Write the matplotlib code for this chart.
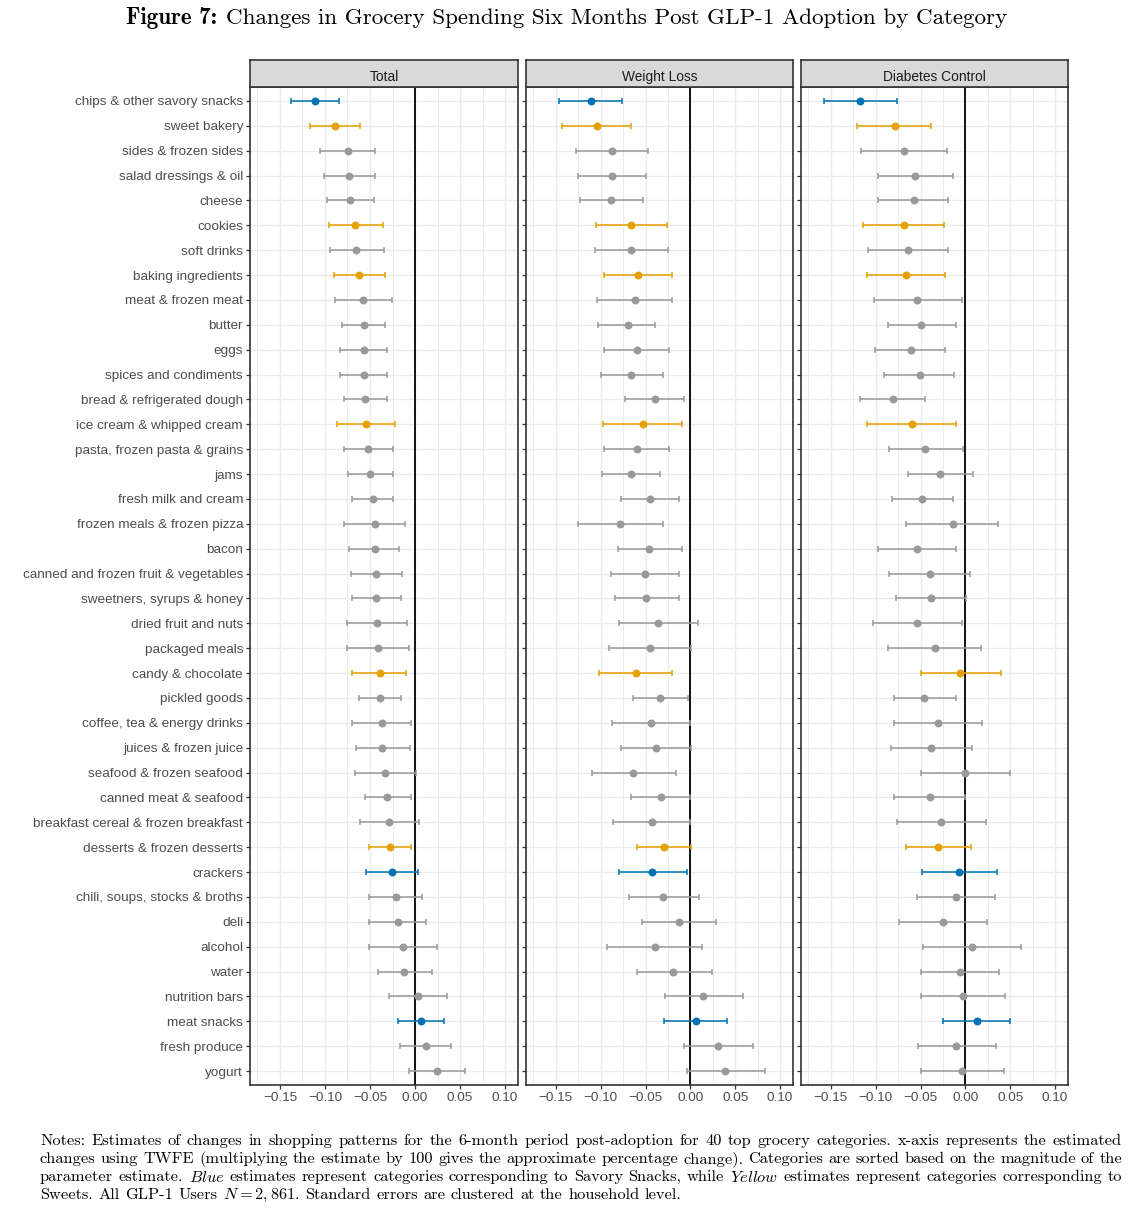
import numpy as np
import matplotlib.pyplot as plt

plt.rcParams['mathtext.fontset'] = 'cm'

categories = [
    "chips & other savory snacks", "sweet bakery", "sides & frozen sides",
    "salad dressings & oil", "cheese", "cookies", "soft drinks",
    "baking ingredients", "meat & frozen meat", "butter", "eggs",
    "spices and condiments", "bread & refrigerated dough",
    "ice cream & whipped cream", "pasta, frozen pasta & grains", "jams",
    "fresh milk and cream", "frozen meals & frozen pizza", "bacon",
    "canned and frozen fruit & vegetables", "sweetners, syrups & honey",
    "dried fruit and nuts", "packaged meals", "candy & chocolate",
    "pickled goods", "coffee, tea & energy drinks", "juices & frozen juice",
    "seafood & frozen seafood", "canned meat & seafood",
    "breakfast cereal & frozen breakfast", "desserts & frozen desserts",
    "crackers", "chili, soups, stocks & broths", "deli", "alcohol", "water",
    "nutrition bars", "meat snacks", "fresh produce", "yogurt",
]
# S = savory snacks (blue), W = sweets (yellow), O = other (grey)
group = ["S", "W", "O", "O", "O", "W", "O", "W", "O", "O",
         "O", "O", "O", "W", "O", "O", "O", "O", "O", "O",
         "O", "O", "O", "W", "O", "O", "O", "O", "O", "O",
         "W", "S", "O", "O", "O", "O", "O", "S", "O", "O"]

total_est = [-0.111, -0.089, -0.074, -0.073, -0.072, -0.067, -0.066, -0.062, -0.058, -0.057,
             -0.057, -0.057, -0.056, -0.054, -0.052, -0.050, -0.047, -0.045, -0.045, -0.043,
             -0.043, -0.042, -0.041, -0.039, -0.039, -0.037, -0.037, -0.033, -0.031, -0.029,
             -0.028, -0.026, -0.021, -0.019, -0.013, -0.012, 0.003, 0.007, 0.012, 0.024]
total_lo = [-0.138, -0.117, -0.105, -0.101, -0.098, -0.096, -0.094, -0.090, -0.089, -0.081,
            -0.083, -0.083, -0.079, -0.087, -0.079, -0.074, -0.070, -0.079, -0.073, -0.071,
            -0.070, -0.075, -0.076, -0.070, -0.062, -0.070, -0.066, -0.067, -0.056, -0.061,
            -0.051, -0.054, -0.051, -0.051, -0.051, -0.041, -0.029, -0.019, -0.017, -0.007]
total_hi = [-0.084, -0.061, -0.044, -0.044, -0.046, -0.036, -0.035, -0.033, -0.026, -0.033,
            -0.031, -0.031, -0.031, -0.022, -0.025, -0.025, -0.024, -0.011, -0.018, -0.014,
            -0.016, -0.009, -0.007, -0.010, -0.016, -0.004, -0.006, 0.001, -0.005, 0.004,
            -0.004, 0.003, 0.008, 0.012, 0.024, 0.019, 0.035, 0.032, 0.040, 0.056]

wl_est = [-0.111, -0.104, -0.087, -0.087, -0.088, -0.066, -0.066, -0.058, -0.062, -0.070,
          -0.060, -0.066, -0.040, -0.053, -0.060, -0.066, -0.045, -0.078, -0.046, -0.051,
          -0.049, -0.036, -0.045, -0.061, -0.034, -0.044, -0.038, -0.064, -0.033, -0.043,
          -0.029, -0.043, -0.030, -0.013, -0.040, -0.019, 0.014, 0.006, 0.031, 0.039]
wl_lo = [-0.147, -0.143, -0.127, -0.125, -0.123, -0.105, -0.106, -0.096, -0.104, -0.103,
         -0.096, -0.100, -0.073, -0.097, -0.096, -0.099, -0.077, -0.125, -0.081, -0.089,
         -0.084, -0.080, -0.091, -0.102, -0.064, -0.087, -0.077, -0.110, -0.066, -0.086,
         -0.060, -0.080, -0.069, -0.054, -0.093, -0.060, -0.028, -0.029, -0.007, -0.004]
wl_hi = [-0.076, -0.066, -0.047, -0.049, -0.053, -0.026, -0.025, -0.020, -0.020, -0.039,
         -0.024, -0.030, -0.007, -0.009, -0.024, -0.034, -0.013, -0.031, -0.009, -0.013,
         -0.013, 0.008, 0.001, -0.021, -0.003, 0.000, 0.001, -0.016, -0.001, -0.001,
         0.001, -0.004, 0.010, 0.029, 0.013, 0.024, 0.059, 0.041, 0.070, 0.083]

dc_est = [-0.117, -0.079, -0.068, -0.056, -0.057, -0.069, -0.064, -0.066, -0.054, -0.049,
          -0.061, -0.051, -0.081, -0.060, -0.045, -0.028, -0.048, -0.014, -0.054, -0.040,
          -0.038, -0.054, -0.034, -0.006, -0.046, -0.030, -0.038, 0.000, -0.040, -0.027,
          -0.030, -0.007, -0.011, -0.025, 0.007, -0.006, -0.003, 0.013, -0.010, -0.004]
dc_lo = [-0.158, -0.121, -0.116, -0.098, -0.097, -0.114, -0.109, -0.110, -0.102, -0.086,
         -0.101, -0.091, -0.117, -0.110, -0.085, -0.064, -0.082, -0.066, -0.097, -0.085,
         -0.077, -0.103, -0.086, -0.050, -0.080, -0.080, -0.083, -0.050, -0.080, -0.076,
         -0.066, -0.048, -0.054, -0.074, -0.047, -0.049, -0.050, -0.025, -0.053, -0.050]
dc_hi = [-0.076, -0.038, -0.020, -0.014, -0.019, -0.024, -0.019, -0.023, -0.004, -0.011,
         -0.023, -0.013, -0.045, -0.011, -0.003, 0.009, -0.014, 0.036, -0.010, 0.005,
         0.001, -0.004, 0.017, 0.040, -0.011, 0.019, 0.007, 0.050, -0.001, 0.023,
         0.006, 0.035, 0.033, 0.024, 0.062, 0.038, 0.044, 0.050, 0.034, 0.043]

panels = [
    ("Total", total_est, total_lo, total_hi),
    ("Weight Loss", wl_est, wl_lo, wl_hi),
    ("Diabetes Control", dc_est, dc_lo, dc_hi),
]
colors = {"S": "#0072B2", "W": "#E69F00", "O": "#999999"}

W, H = 1134, 1218
fig = plt.figure(figsize=(W / 100, H / 100), dpi=100)
renderer = fig.canvas.get_renderer()


def box(x0, y0, x1, y1):
    # pixel box (top-left origin) -> figure fraction rect
    return [x0 / W, 1 - y1 / H, (x1 - x0) / W, (y1 - y0) / H]


lefts = [(250, 518), (526, 793), (801, 1068)]
ptop, pbot, stop = 87, 1085, 60
n = len(categories)
ypos = np.arange(1, n + 1)
grp = np.array(group)

for k, (name, est, lo, hi) in enumerate(panels):
    x0, x1 = lefts[k]
    ax = fig.add_axes(box(x0, ptop, x1, pbot))
    est, lo, hi = np.array(est), np.array(lo), np.array(hi)
    for g in ["O", "W", "S"]:
        m = grp == g
        ax.errorbar(est[m], ypos[m], xerr=[est[m] - lo[m], hi[m] - est[m]],
                    fmt='o', color=colors[g], ms=4.7, elinewidth=1.1,
                    capsize=2.4, capthick=1.1, zorder=3)
    ax.axvline(0, color='black', lw=1.3, zorder=2)
    ax.set_xlim(-0.1833, 0.1144)
    ax.set_ylim(n + 0.56, 0.44)
    ax.set_xticks([-0.15, -0.10, -0.05, 0.0, 0.05, 0.10])
    ax.set_xticklabels(["\u22120.15", "\u22120.10", "\u22120.05", "0.00", "0.05", "0.10"])
    ax.set_xticks(np.arange(-0.175, 0.11, 0.05), minor=True)
    ax.set_yticks(ypos)
    if k == 0:
        ax.set_yticklabels(categories)
    else:
        ax.set_yticklabels([])
        ax.tick_params(axis='y', length=0)
    ax.grid(True, which='major', color='#EBEBEB', lw=1.0, zorder=0)
    ax.grid(True, which='minor', axis='x', color='#EBEBEB', lw=0.7, zorder=0)
    ax.set_axisbelow(True)
    ax.tick_params(axis='both', which='major', labelsize=9.7, labelcolor='#4D4D4D',
                   color='#333333', length=3, width=0.9, pad=2)
    ax.tick_params(axis='x', which='minor', length=0)
    for s in ax.spines.values():
        s.set_color('#333333')
        s.set_linewidth(1.2)
    for lab in ax.get_xticklabels() + ax.get_yticklabels():
        lab.set_fontfamily('Liberation Sans')

    sax = fig.add_axes(box(x0, stop, x1, ptop))
    sax.set_facecolor('#D9D9D9')
    sax.set_xticks([])
    sax.set_yticks([])
    for s in sax.spines.values():
        s.set_color('#333333')
        s.set_linewidth(1.2)
    sax.text(0.5, 0.42, name, ha='center', va='center_baseline', fontsize=9.9,
             color='#1A1A1A', family='Liberation Sans', transform=sax.transAxes)

# title: bold "Figure 7:" followed by roman text, centred as one line
ty = 1 - 18 / H
t1 = fig.text(0, ty, "Figure 7:", ha='left', va='center', fontsize=16.6, family='cmb10')
t2 = fig.text(0, ty, "Changes in Grocery Spending Six Months Post GLP-1 Adoption by Category",
              ha='left', va='center', fontsize=16.6, family='cmr10')
w1 = t1.get_window_extent(renderer).width
w2 = t2.get_window_extent(renderer).width
tgap = 9
tx = (W - (w1 + tgap + w2)) / 2
t1.set_x(tx / W)
t2.set_x((tx + w1 + tgap) / W)

# notes, justified line by line
notes = [
    "Notes: Estimates of changes in shopping patterns for the 6-month period post-adoption for 40 top grocery categories. x-axis represents the estimated",
    "changes using TWFE (multiplying the estimate by 100 gives the approximate percentage change). Categories are sorted based on the magnitude of the",
    r"parameter estimate. $\mathit{Blue}$ estimates represent categories corresponding to Savory Snacks, while $\mathit{Yellow}$ estimates represent categories corresponding to",
    r"Sweets. All GLP-1 Users $N=2,861$. Standard errors are clustered at the household level.",
]
nx0, nx1 = 40, 1122
for i, line in enumerate(notes):
    yl = 1 - (1141 + 18 * i) / H
    # keep math tokens intact
    toks, buf = [], None
    for w in line.split(" "):
        if buf is not None:
            buf += " " + w
            if w.count("$") % 2 == 1:
                toks.append(buf)
                buf = None
        elif w.count("$") == 1:
            buf = w
        else:
            toks.append(w)
    objs = [fig.text(0, yl, t, ha='left', va='center', fontsize=11.8, family='cmr10')
            for t in toks]
    widths = [o.get_window_extent(renderer).width for o in objs]
    if i < len(notes) - 1:
        gap = (nx1 - nx0 - sum(widths)) / (len(objs) - 1)
    else:
        gap = 5.5
    x = nx0
    for o, w in zip(objs, widths):
        o.set_x(x / W)
        x += w + gap

fig.savefig("out.png", dpi=100)
